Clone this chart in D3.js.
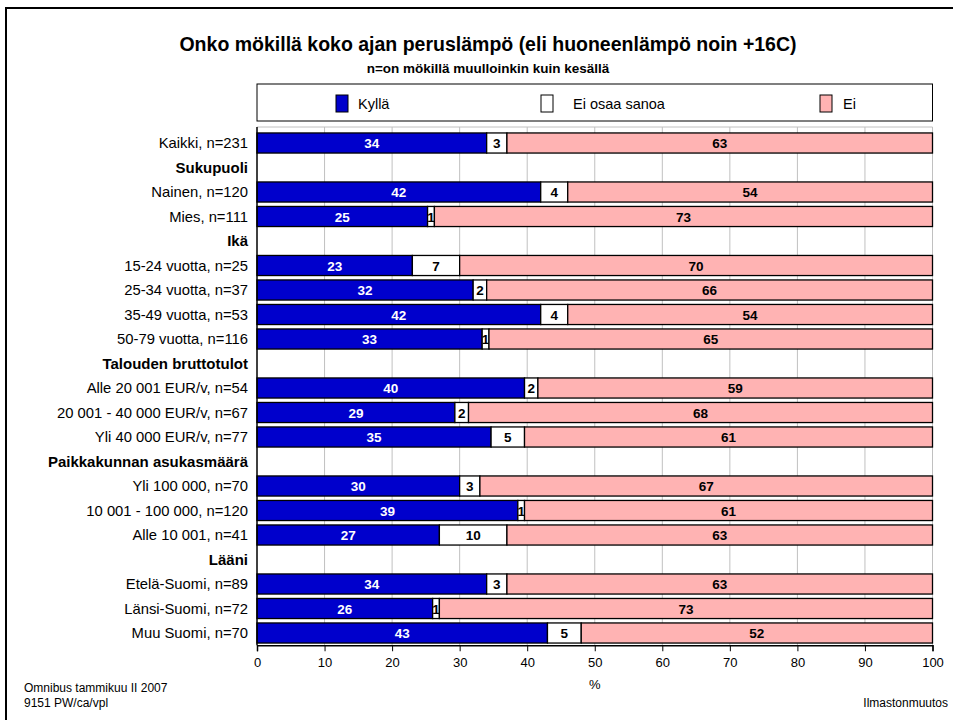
<!DOCTYPE html>
<html>
<head>
<meta charset="utf-8">
<script src="https://cdn.jsdelivr.net/npm/d3@7"></script>
<style>
  body { margin: 0; background: #fff; }
  svg { display: block; font-family: "Liberation Sans", Arial, sans-serif; }
</style>
</head>
<body>
<svg id="chart" width="953" height="720"></svg>
<script>
// ---- Data ----
const categories = [
  "Kaikki, n=231", "Sukupuoli", "Nainen, n=120", "Mies, n=111",
  "Ikä", "15-24 vuotta, n=25", "25-34 vuotta, n=37", "35-49 vuotta, n=53", "50-79 vuotta, n=116",
  "Talouden bruttotulot", "Alle 20 001 EUR/v, n=54", "20 001 - 40 000 EUR/v, n=67", "Yli 40 000 EUR/v, n=77",
  "Paikkakunnan asukasmäärä", "Yli 100 000, n=70", "10 001 - 100 000, n=120", "Alle 10 001, n=41",
  "Lääni", "Etelä-Suomi, n=89", "Länsi-Suomi, n=72", "Muu Suomi, n=70"
];
const headers = ["Sukupuoli", "Ikä", "Talouden bruttotulot", "Paikkakunnan asukasmäärä", "Lääni"];
const seriesNames = ["Kyllä", "Ei osaa sanoa", "Ei"];
// null for header rows
const kylla =       [34, null, 42, 25, null, 23, 32, 42, 33, null, 40, 29, 35, null, 30, 39, 27, null, 34, 26, 43];
const eiOsaaSanoa = [3,  null, 4,  1,  null, 7,  2,  4,  1,  null, 2,  2,  5,  null, 3,  1,  10, null, 3,  1,  5];
const ei =          [63, null, 54, 73, null, 70, 66, 54, 65, null, 59, 68, 61, null, 67, 61, 63, null, 63, 73, 52];
const xTicks = [0, 10, 20, 30, 40, 50, 60, 70, 80, 90, 100];

const colors = ["#0000cc", "#ffffff", "#ffb3b3"];
const labelColors = ["#ffffff", "#000000", "#000000"];

// ---- Layout ----
const svg = d3.select("#chart");
const pLeft = 257, pRight = 932.5, pTop = 130.75, pBottom = 645.25;

const x = d3.scaleLinear().domain([0, 100]).range([pLeft, pRight]);
const y = d3.scaleBand().domain(categories).range([pTop, pBottom]).paddingInner(0.18).paddingOuter(0.09);

// frame (top and left lines)
svg.append("line").attr("x1", 5).attr("x2", 953).attr("y1", 8).attr("y2", 8).attr("stroke", "#000").attr("stroke-width", 2);
svg.append("line").attr("x1", 6).attr("x2", 6).attr("y1", 7).attr("y2", 720).attr("stroke", "#000").attr("stroke-width", 2);

// title
svg.append("text").attr("x", 488).attr("y", 51).attr("text-anchor", "middle")
  .attr("font-size", 19.5).attr("font-weight", "bold")
  .text("Onko mökillä koko ajan peruslämpö (eli huoneenlämpö noin +16C)");
svg.append("text").attr("x", 488).attr("y", 73).attr("text-anchor", "middle")
  .attr("font-size", 13.5).attr("font-weight", "bold")
  .text("n=on mökillä muulloinkin kuin kesällä");

// legend
svg.append("rect").attr("x", pLeft).attr("y", 84).attr("width", pRight - pLeft).attr("height", 37)
  .attr("fill", "#fff").attr("stroke", "#000").attr("stroke-width", 1);
const legendPos = [336, 541, 820];
const legendTextPos = [358, 573, 843];
seriesNames.forEach((s, i) => {
  svg.append("rect").attr("x", legendPos[i]).attr("y", 95).attr("width", 12).attr("height", 17)
    .attr("fill", colors[i]).attr("stroke", "#000").attr("stroke-width", 1);
  svg.append("text").attr("x", legendTextPos[i]).attr("y", 109).attr("font-size", 14.5).text(s);
});

// gridlines
svg.append("g").selectAll("line").data(xTicks.filter(d => d > 0)).join("line")
  .attr("x1", d => x(d)).attr("x2", d => x(d)).attr("y1", 127).attr("y2", pBottom)
  .attr("stroke", "#c0c0c0").attr("stroke-width", 1);
svg.append("line").attr("x1", pLeft).attr("x2", pRight).attr("y1", 127).attr("y2", 127)
  .attr("stroke", "#c0c0c0").attr("stroke-width", 1);

// bars
const seriesData = [kylla, eiOsaaSanoa, ei];
const rows = categories.map((c, i) => ({ cat: c, vals: seriesData.map(s => s[i]) }))
  .filter(r => r.vals[0] !== null);

const barG = svg.append("g");
rows.forEach(r => {
  const total = d3.sum(r.vals);
  let cum = 0;
  r.vals.forEach((v, j) => {
    const x0 = x(cum / total * 100);
    const x1 = x((cum + v) / total * 100);
    cum += v;
    barG.append("rect").attr("x", x0).attr("y", y(r.cat)).attr("width", x1 - x0).attr("height", y.bandwidth())
      .attr("fill", colors[j]).attr("stroke", "#000").attr("stroke-width", 1.3);
    barG.append("text").attr("x", (x0 + x1) / 2).attr("y", y(r.cat) + y.bandwidth() / 2 + 5)
      .attr("text-anchor", "middle").attr("font-size", 13.5).attr("font-weight", "bold")
      .attr("fill", labelColors[j]).text(v);
  });
});

// category labels
svg.append("g").selectAll("text").data(categories).join("text")
  .attr("x", 248).attr("y", d => y(d) + y.bandwidth() / 2 + 5)
  .attr("text-anchor", "end")
  .attr("font-size", d => headers.includes(d) ? 15 : 14.8)
  .attr("font-weight", d => headers.includes(d) ? "bold" : "normal")
  .text(d => d);

// left axis line
svg.append("line").attr("x1", pLeft).attr("x2", pLeft).attr("y1", 127).attr("y2", pBottom)
  .attr("stroke", "#000").attr("stroke-width", 1.5);

// x axis
const xAxis = d3.axisBottom(x).tickValues(xTicks).tickSize(6).tickFormat(d3.format("d"));
const ax = svg.append("g").attr("transform", `translate(0,${pBottom})`).call(xAxis);
ax.select(".domain").attr("stroke", "#000").attr("stroke-width", 1.5);
ax.selectAll(".tick line").attr("stroke", "#000");
ax.selectAll(".tick text").attr("font-size", 13).attr("font-family", "Liberation Sans, Arial, sans-serif")
  .attr("fill", "#000").attr("dy", "1.0em");
svg.append("text").attr("x", x(50)).attr("y", 689).attr("text-anchor", "middle").attr("font-size", 13).text("%");

// footer
svg.append("text").attr("x", 24).attr("y", 692).attr("font-size", 12).text("Omnibus tammikuu II 2007");
svg.append("text").attr("x", 24).attr("y", 707).attr("font-size", 12).text("9151 PW/ca/vpl");
svg.append("text").attr("x", 948).attr("y", 707).attr("text-anchor", "end").attr("font-size", 12).text("Ilmastonmuutos");
</script>
</body>
</html>
